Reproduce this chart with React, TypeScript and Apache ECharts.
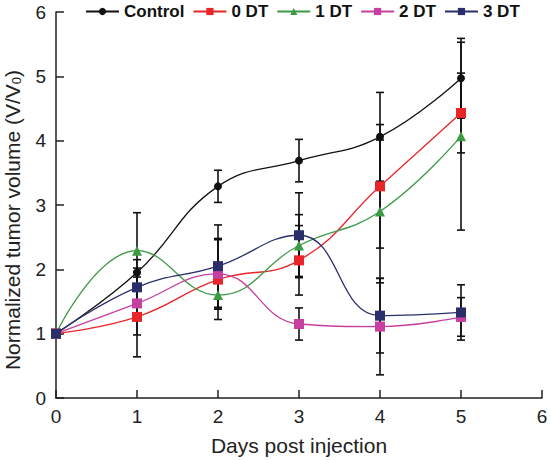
import React, { useEffect, useRef } from "react";
import * as echarts from "echarts";

const days = [0, 1, 2, 3, 4, 5];
const seriesNames = ["Control", "0 DT", "1 DT", "2 DT", "3 DT"];
const controlVals = [1, 1.95, 3.29, 3.69, 4.06, 4.97];
const dt0Vals = [1, 1.26, 1.84, 2.14, 3.29, 4.43];
const dt1Vals = [1, 2.29, 1.6, 2.37, 2.9, 4.07];
const dt2Vals = [1, 1.47, 1.93, 1.15, 1.11, 1.26];
const dt3Vals = [1, 1.72, 2.05, 2.53, 1.28, 1.33];
const controlErr = [0, 0.2, 0.25, 0.33, 0.69, 0.62];
const dt0Err = [0, 0.62, 0.62, 0.54, 0.96, 0.62];
const dt1Err = [0, 0.59, 0.2, 0.48, 1.11, 1.46];
const dt2Err = [0, 0.49, 0.55, 0.25, 0.75, 0.3];
const dt3Err = [0, 0.3, 0.64, 0.66, 0.58, 0.43];
const xTicks = [0, 1, 2, 3, 4, 5, 6];
const yTicks = [0, 1, 2, 3, 4, 5, 6];

const FONT = "'Liberation Sans', Arial, sans-serif";

export default function App() {
  const ref = useRef<HTMLDivElement>(null);
  useEffect(() => {
    if (!ref.current) return;
    const chart = echarts.init(ref.current, null, { renderer: "svg" });
    const vals = [controlVals, dt0Vals, dt1Vals, dt2Vals, dt3Vals];
    const errs = [controlErr, dt0Err, dt1Err, dt2Err, dt3Err];
    const colors = ["#111111", "#e8262a", "#3d9a45", "#c8409f", "#2a2f6b"];
    const symbols = ["circle", "rect", "triangle", "rect", "rect"];
    const sizes = [8, 10, 10, 10, 10];

    const lineSeries = seriesNames.map((name, i) => ({
      name,
      type: "line",
      smooth: 0.45,
      data: days.map((d, j) => [d, vals[i][j]]),
      symbol: symbols[i],
      symbolSize: sizes[i],
      showSymbol: true,
      itemStyle: { color: colors[i] },
      lineStyle: { color: colors[i], width: 1.3 },
      z: 3,
    }));

    const errSeries = seriesNames.map((name, i) => ({
      name: name + " err",
      type: "custom",
      data: days.map((d, j) => [d, vals[i][j], vals[i][j] - errs[i][j], vals[i][j] + errs[i][j]]),
      renderItem: (params: any, api: any) => {
        const x = api.value(0);
        const lo = api.value(2);
        const hi = api.value(3);
        if (hi - lo < 1e-6) return { type: "group", children: [] };
        const pHi = api.coord([x, hi]);
        const pLo = api.coord([x, lo]);
        const hw = 4;
        const st = { stroke: "#111", lineWidth: 1.6 };
        return {
          type: "group",
          children: [
            { type: "line", shape: { x1: pHi[0], y1: pHi[1], x2: pLo[0], y2: pLo[1] }, style: st },
            { type: "line", shape: { x1: pHi[0] - hw, y1: pHi[1], x2: pHi[0] + hw, y2: pHi[1] }, style: st },
            { type: "line", shape: { x1: pLo[0] - hw, y1: pLo[1], x2: pLo[0] + hw, y2: pLo[1] }, style: st },
          ],
        };
      },
      z: 2,
      silent: true,
    }));

    chart.setOption({
      animation: false,
      backgroundColor: "#ffffff",
      textStyle: { fontFamily: FONT },
      legend: {
        data: seriesNames,
        left: 85,
        top: 3,
        padding: 0,
        itemWidth: 33,
        itemHeight: 9,
        itemGap: 8,
        textStyle: { fontFamily: FONT, fontSize: 17, fontWeight: "bold", color: "#111" },
      },
      graphic: [
        {
          type: "text",
          x: 12,
          y: 220,
          rotation: Math.PI / 2,
          style: {
            text: "{a|Normalized tumor volume (V/V}{s|0}{a|)}",
            align: "center",
            verticalAlign: "middle",
            rich: {
              a: { fontFamily: FONT, fontSize: 21, fill: "#222", color: "#222" },
              s: { fontFamily: FONT, fontSize: 13, fill: "#222", color: "#222", padding: [9, 0, 0, 0] },
            },
          },
        },
      ],
      grid: { left: 56, right: 9, top: 12, bottom: 62, containLabel: false, outerBoundsMode: "none" },
      xAxis: {
        type: "value",
        min: xTicks[0],
        max: xTicks[xTicks.length - 1],
        interval: 1,
        name: "Days post injection",
        nameLocation: "middle",
        nameGap: 37,
        nameTextStyle: { fontFamily: FONT, fontSize: 21, color: "#222" },
        axisLine: { show: true, lineStyle: { color: "#222", width: 1.5 } },
        axisTick: { show: true, inside: true, length: 8, lineStyle: { color: "#222", width: 1.5 } },
        axisLabel: { fontFamily: FONT, fontSize: 19, color: "#222", margin: 9 },
        splitLine: { show: false },
      },
      yAxis: {
        type: "value",
        min: yTicks[0],
        max: yTicks[yTicks.length - 1],
        interval: 1,
        axisLine: { show: true, lineStyle: { color: "#222", width: 1.5 } },
        axisTick: { show: true, inside: true, length: 8, lineStyle: { color: "#222", width: 1.5 } },
        axisLabel: { fontFamily: FONT, fontSize: 19, color: "#222", margin: 10 },
        splitLine: { show: false },
      },
      series: [...errSeries, ...lineSeries],
    });
    return () => chart.dispose();
  }, []);
  return (
    <div
      ref={ref}
      style={{ position: "fixed", left: 0, top: 0, width: 551, height: 460 }}
    />
  );
}
